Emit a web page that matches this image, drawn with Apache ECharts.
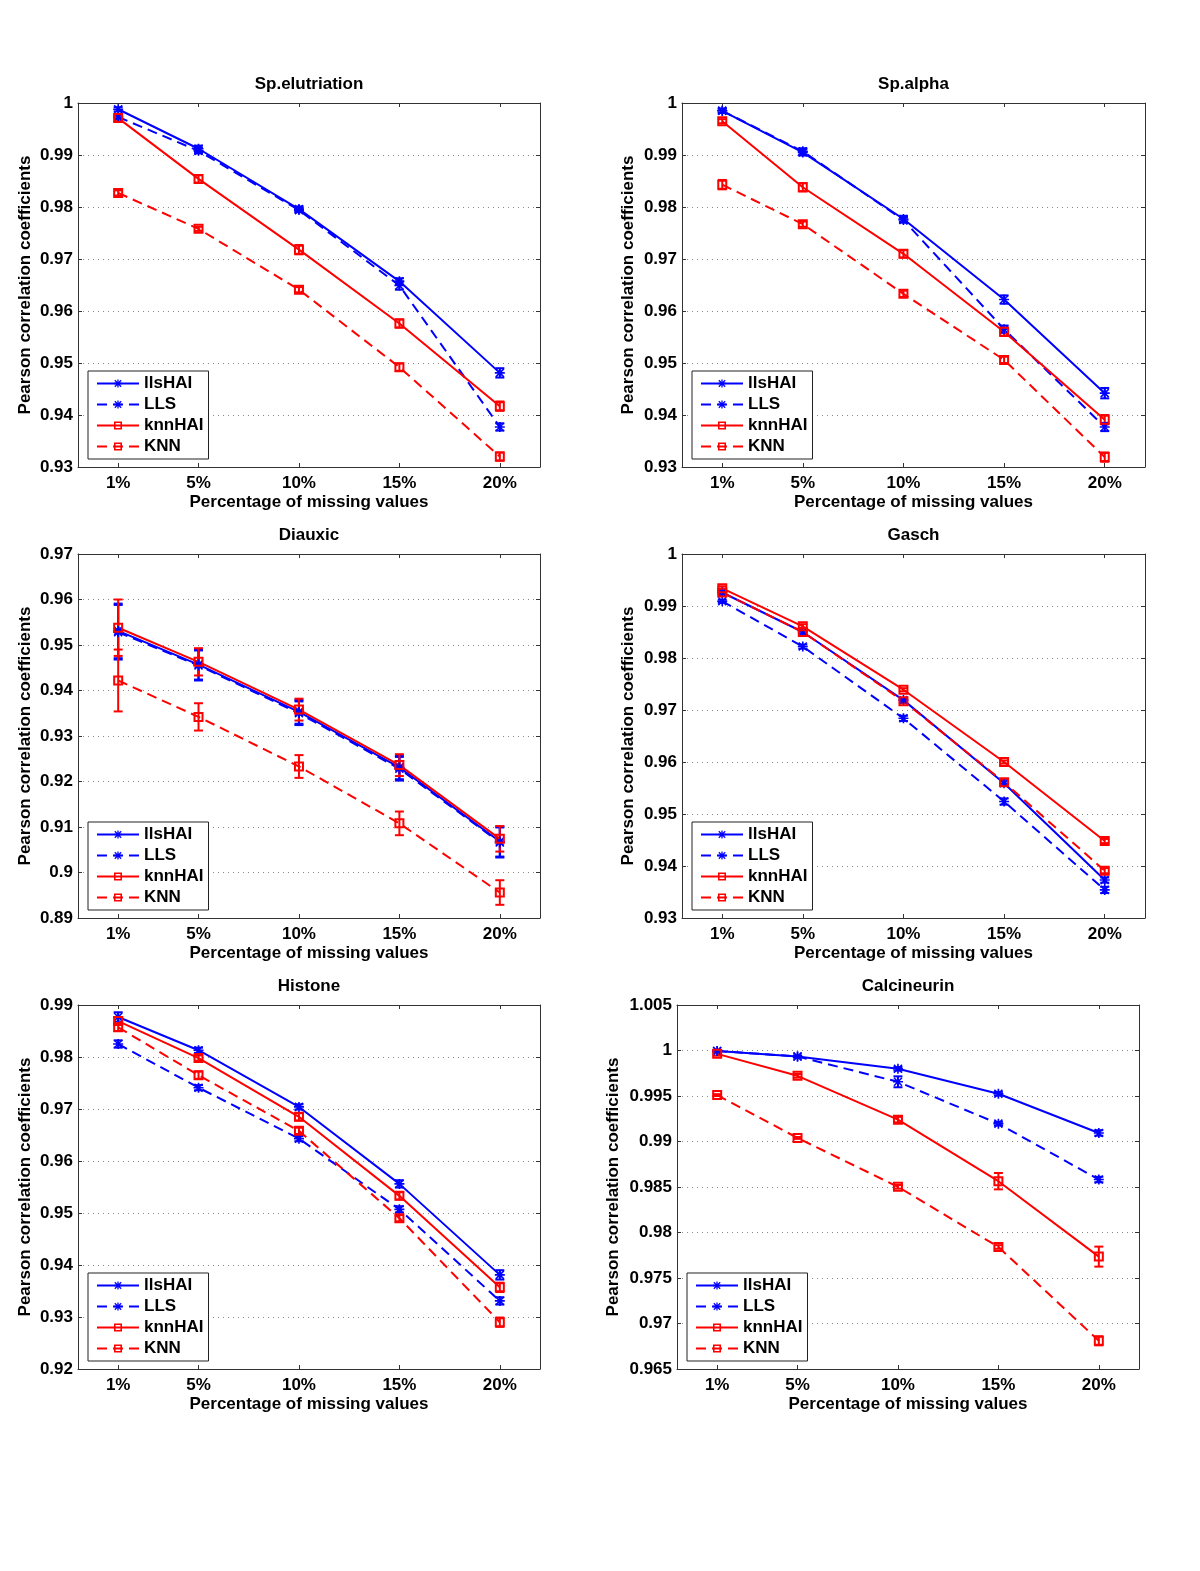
<!DOCTYPE html>
<html>
<head>
<meta charset="utf-8">
<script src="https://cdn.jsdelivr.net/npm/echarts@6/dist/echarts.min.js"></script>
<style>
html,body{margin:0;padding:0;background:#fff;}
#chart{width:1200px;height:1571px;}
</style>
</head>
<body>
<div id="chart"></div>
<script>
// ---------- data ----------
const xPercents = [1, 5, 10, 15, 20];
const xTickLabels = ['1%', '5%', '10%', '15%', '20%'];
const seriesNames = ['llsHAI', 'LLS', 'knnHAI', 'KNN'];
const panelTitles = ['Sp.elutriation', 'Sp.alpha', 'Diauxic', 'Gasch', 'Histone', 'Calcineurin'];
const yMins = [0.93, 0.93, 0.89, 0.93, 0.92, 0.965];
const yMaxs = [1, 1, 0.97, 1, 0.99, 1.005];
const yIntervals = [0.01, 0.01, 0.01, 0.01, 0.01, 0.005];

// rows: llsHAI, LLS, knnHAI, KNN
const spElutriationValues = [
  [0.9988, 0.9912, 0.9796, 0.9657, 0.9481],
  [0.9973, 0.9908, 0.9794, 0.9649, 0.9377],
  [0.9971, 0.9854, 0.9718, 0.9576, 0.9417],
  [0.9827, 0.9758, 0.9641, 0.9492, 0.9320]
];
const spElutriationErrors = [
  [0.0004, 0.0006, 0.0005, 0.0006, 0.0009],
  [0.0004, 0.0005, 0.0004, 0.0008, 0.0007],
  [0.0006, 0.0007, 0.0009, 0.0008, 0.0009],
  [0.0005, 0.0004, 0.0005, 0.0007, 0.0008]
];
const spAlphaValues = [
  [0.9985, 0.9905, 0.9777, 0.9622, 0.9442],
  [0.9985, 0.9907, 0.9775, 0.9565, 0.9377],
  [0.9965, 0.9838, 0.9710, 0.9560, 0.9391],
  [0.9843, 0.9767, 0.9633, 0.9506, 0.9319]
];
const spAlphaErrors = [
  [0.0004, 0.0006, 0.0006, 0.0008, 0.0010],
  [0.0004, 0.0006, 0.0005, 0.0007, 0.0008],
  [0.0004, 0.0008, 0.0007, 0.0008, 0.0009],
  [0.0009, 0.0005, 0.0006, 0.0006, 0.0009]
];
const diauxicValues = [
  [0.9531, 0.9457, 0.9353, 0.9231, 0.9068],
  [0.9528, 0.9455, 0.9350, 0.9228, 0.9066],
  [0.9538, 0.9463, 0.9358, 0.9236, 0.9074],
  [0.9422, 0.9342, 0.9233, 0.9108, 0.8956]
];
const diauxicErrors = [
  [0.0060, 0.0033, 0.0026, 0.0026, 0.0033],
  [0.0060, 0.0033, 0.0026, 0.0026, 0.0033],
  [0.0062, 0.0030, 0.0024, 0.0024, 0.0028],
  [0.0068, 0.0030, 0.0025, 0.0026, 0.0027]
];
const gaschValues = [
  [0.9926, 0.9850, 0.9719, 0.9559, 0.9373],
  [0.9909, 0.9822, 0.9684, 0.9524, 0.9354],
  [0.9934, 0.9861, 0.9739, 0.9600, 0.9448],
  [0.9926, 0.9850, 0.9717, 0.9561, 0.9391]
];
const gaschErrors = [
  [0.0003, 0.0004, 0.0004, 0.0005, 0.0005],
  [0.0003, 0.0004, 0.0005, 0.0006, 0.0006],
  [0.0004, 0.0004, 0.0003, 0.0003, 0.0004],
  [0.0006, 0.0006, 0.0004, 0.0005, 0.0005]
];
const histoneValues = [
  [0.9877, 0.9813, 0.9704, 0.9556, 0.9381],
  [0.9825, 0.9741, 0.9643, 0.9507, 0.9331],
  [0.9869, 0.9798, 0.9685, 0.9533, 0.9357],
  [0.9857, 0.9765, 0.9658, 0.9490, 0.9290]
];
const histoneErrors = [
  [0.0009, 0.0005, 0.0005, 0.0007, 0.0009],
  [0.0007, 0.0005, 0.0005, 0.0006, 0.0007],
  [0.0007, 0.0005, 0.0007, 0.0007, 0.0009],
  [0.0007, 0.0007, 0.0006, 0.0006, 0.0009]
];
const calcineurinValues = [
  [0.99995, 0.99934, 0.99799, 0.99525, 0.99094],
  [0.99995, 0.99934, 0.99656, 0.99196, 0.98582],
  [0.99963, 0.99722, 0.99240, 0.98564, 0.97735],
  [0.99510, 0.99039, 0.98502, 0.97841, 0.96810]
];
const calcineurinErrors = [
  [0.0001, 0.0001, 0.0002, 0.0002, 0.0003],
  [0.0001, 0.0001, 0.0006, 0.0002, 0.0003],
  [0.0002, 0.0002, 0.0003, 0.0009, 0.0011],
  [0.0001, 0.0001, 0.0002, 0.0002, 0.0005]
];

const panelValues = [spElutriationValues, spAlphaValues, diauxicValues, gaschValues, histoneValues, calcineurinValues];
const panelErrors = [spElutriationErrors, spAlphaErrors, diauxicErrors, gaschErrors, histoneErrors, calcineurinErrors];

// ---------- layout / style ----------
const boxes = [
  {left: 78, top: 103, width: 462, yGap: 44},
  {left: 682, top: 103, width: 463, yGap: 45},
  {left: 78, top: 554, width: 462, yGap: 44},
  {left: 682, top: 554, width: 463, yGap: 45},
  {left: 78, top: 1005, width: 462, yGap: 44},
  {left: 677, top: 1005, width: 462, yGap: 55}
];
const PLOT_H = 364;
const FONT = '"Liberation Sans", Arial, Helvetica, sans-serif';
const BLUE = '#0000ff', RED = '#ff0000';
const ASTERISK = 'path://M8.4 0H11.6V20H8.4Z M0 8.4H20V11.6H0Z M3.1 0.9L19.1 16.9L16.9 19.1L0.9 3.1Z M16.9 0.9L19.1 3.1L3.1 19.1L0.9 16.9Z';
const OPEN_SQUARE = 'path://M0 0H20V20H0Z M4 4V16H16V4Z';
const styles = [
  {color: BLUE, type: 'solid', symbol: ASTERISK, size: 10},
  {color: BLUE, type: [10, 6], symbol: ASTERISK, size: 10},
  {color: RED, type: 'solid', symbol: OPEN_SQUARE, size: 10},
  {color: RED, type: [10, 6], symbol: OPEN_SQUARE, size: 10}
];
const txt = {fontFamily: FONT, fontWeight: 'bold', fontSize: 17, color: '#000'};
const AX = '#333';

function renderErr(params, api) {
  const x = api.value(0), lo = api.value(1), hi = api.value(2);
  const p1 = api.coord([x, lo]);
  const p2 = api.coord([x, hi]);
  const cap = 4.5;
  const st = {stroke: api.visual('color'), lineWidth: 2};
  return {
    type: 'group',
    children: [
      {type: 'line', shape: {x1: p1[0], y1: p1[1], x2: p2[0], y2: p2[1]}, style: st},
      {type: 'line', shape: {x1: p1[0] - cap, y1: p1[1], x2: p1[0] + cap, y2: p1[1]}, style: st},
      {type: 'line', shape: {x1: p2[0] - cap, y1: p2[1], x2: p2[0] + cap, y2: p2[1]}, style: st}
    ]
  };
}

const option = {
  animation: false,
  backgroundColor: '#fff',
  textStyle: {fontFamily: FONT},
  title: [], grid: [], xAxis: [], yAxis: [], legend: [], series: []
};

boxes.forEach((b, i) => {
  option.grid.push({left: b.left, top: b.top, width: b.width, height: PLOT_H, containLabel: false, outerBoundsMode: 'none'});
  option.title.push({
    text: panelTitles[i], left: b.left + b.width / 2, top: b.top - 27, textAlign: 'center', padding: 0,
    textStyle: txt
  });
  const tickCommon = {show: true, inside: true, length: 4, lineStyle: {color: AX, width: 1}};
  option.xAxis.push({
    type: 'value', gridIndex: i, min: -1, max: 22, position: 'bottom',
    name: 'Percentage of missing values', nameLocation: 'middle', nameGap: 27, nameTextStyle: txt,
    axisLine: {show: true, onZero: false, lineStyle: {color: AX, width: 1}},
    axisTick: Object.assign({customValues: xPercents}, tickCommon),
    axisLabel: {
      customValues: xPercents, margin: 8, ...txt,
      formatter: v => xTickLabels[xPercents.indexOf(v)]
    },
    splitLine: {show: false}
  });
  option.xAxis.push({
    type: 'value', gridIndex: i, min: -1, max: 22, position: 'top',
    axisLine: {show: true, onZero: false, lineStyle: {color: AX, width: 1}},
    axisTick: Object.assign({customValues: xPercents}, tickCommon),
    axisLabel: {show: false}, splitLine: {show: false}
  });
  option.yAxis.push({
    type: 'value', gridIndex: i, min: yMins[i], max: yMaxs[i], interval: yIntervals[i], position: 'left',
    name: 'Pearson correlation coefficients', nameLocation: 'middle', nameGap: b.yGap, nameTextStyle: txt,
    axisLine: {show: true, onZero: false, lineStyle: {color: AX, width: 1}},
    axisTick: tickCommon,
    axisLabel: {margin: 5, ...txt},
    splitLine: {show: true, lineStyle: {color: '#8a8a8a', width: 1, type: [1, 4]}}
  });
  option.yAxis.push({
    type: 'value', gridIndex: i, min: yMins[i], max: yMaxs[i], interval: yIntervals[i], position: 'right',
    axisLine: {show: true, onZero: false, lineStyle: {color: AX, width: 1}},
    axisTick: tickCommon,
    axisLabel: {show: false}, splitLine: {show: false}
  });

  option.legend.push({
    orient: 'vertical', left: b.left + 10, top: b.top + PLOT_H - 8 - 88,
    data: seriesNames, itemWidth: 42, itemHeight: 10, itemGap: 4,
    padding: [4, 5, 4, 8], borderColor: '#222', borderWidth: 1, backgroundColor: '#fff',
    borderRadius: 0, selectedMode: false,
    textStyle: {fontFamily: FONT, fontWeight: 'bold', fontSize: 17, color: '#000'}
  });

  seriesNames.forEach((name, s) => {
    const st = styles[s];
    const vals = panelValues[i][s];
    const errs = panelErrors[i][s];
    option.series.push({
      type: 'custom', name: name + ' error', xAxisIndex: 2 * i, yAxisIndex: 2 * i,
      renderItem: renderErr, itemStyle: {color: st.color}, encode: {x: 0, y: [1, 2]},
      data: xPercents.map((x, k) => [x, vals[k] - errs[k], vals[k] + errs[k]]),
      z: 3
    });
    option.series.push({
      type: 'line', name: name, xAxisIndex: 2 * i, yAxisIndex: 2 * i,
      data: xPercents.map((x, k) => [x, vals[k]]),
      symbol: st.symbol, symbolSize: st.size, showSymbol: true, showAllSymbol: true,
      itemStyle: {color: st.color},
      lineStyle: {color: st.color, width: 2, type: st.type},
      emphasis: {disabled: true}, z: 4
    });
  });
});

const chart = echarts.init(document.getElementById('chart'), null, {renderer: 'canvas'});
chart.setOption(option);
</script>
</body>
</html>
